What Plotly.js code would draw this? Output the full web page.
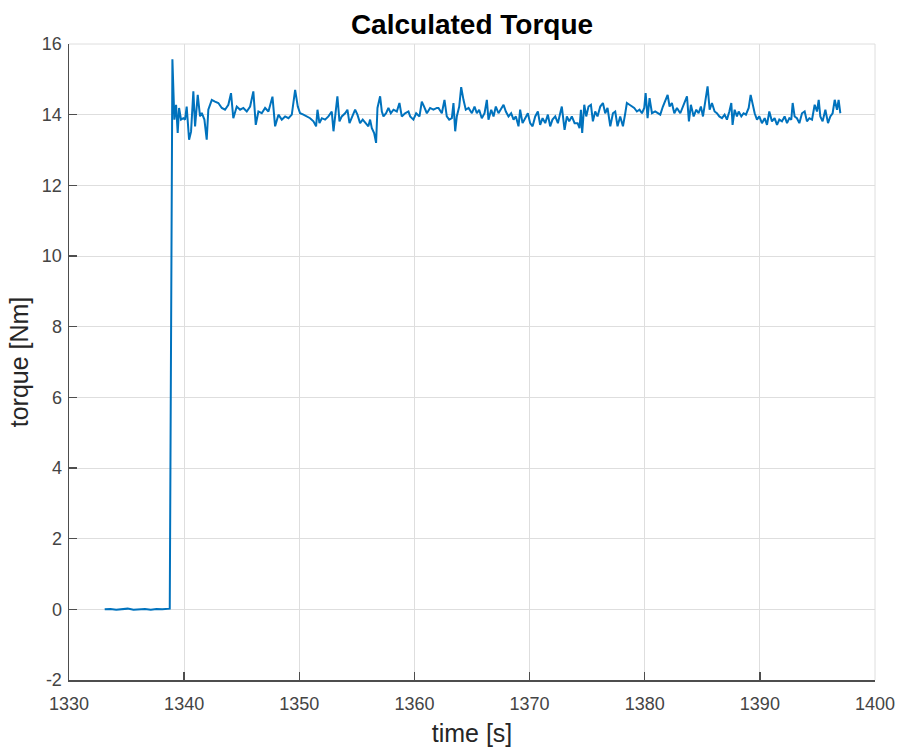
<!DOCTYPE html>
<html>
<head>
<meta charset="utf-8">
<script src="https://cdn.plot.ly/plotly-3.0.1.min.js"></script>
<style>html,body{margin:0;padding:0;background:#fff;}#chart{width:898px;height:747px;}</style>
</head>
<body>
<div id="chart"></div>
<script>
// Time samples [s]
const time = [
1333.1,1333.6,1334.1,1334.6,1335.1,1335.6,1336.1,1336.6,1337.1,1337.6,1338.1,1338.5,1338.75,
1338.98,1339.15,1339.30,1339.44,1339.56,1339.73,1339.93,1340.08,1340.22,1340.43,1340.60,1340.80,1340.95,1341.18,1341.38,1341.53,1341.76,1341.96,
1342.10,1342.40,1342.68,1342.97,1343.27,1343.55,1343.84,1344.07,1344.27,1344.57,1344.86,1345.14,1345.44,1345.73,1346.01,1346.22,1346.45,1346.74,
1347.03,1347.32,1347.67,1347.90,1348.19,1348.48,1348.77,1349.06,1349.35,1349.64,1349.87,1350.07,
1350.36,1350.65,1350.94,1351.23,1351.46,1351.58,1351.75,1351.96,1352.24,1352.53,1352.82,1352.97,1353.11,1353.31,1353.49,1353.69,1353.98,
1354.18,1354.36,1354.56,1354.85,1355.05,1355.28,1355.51,1355.80,1356.00,1356.15,1356.30,1356.50,1356.67,1356.79,1357.02,1357.17,1357.31,
1357.54,1357.74,1357.95,1358.18,1358.47,1358.70,1358.90,1359.19,1359.48,1359.63,1359.91,1360.15,1360.44,1360.64,1360.84,1361.08,1361.36,
1361.65,1361.95,
1362.09,1362.38,1362.61,1362.81,1363.02,1363.25,1363.39,1363.54,1363.68,1363.89,1364.06,1364.26,1364.46,1364.70,1364.99,1365.22,1365.42,
1365.62,1365.85,1366.09,1366.29,1366.43,1366.67,1366.87,1367.07,1367.30,1367.53,1367.74,1367.94,1368.17,1368.40,1368.61,1368.81,1369.04,
1369.18,1369.39,1369.62,1369.85,1370.05,1370.26,1370.49,1370.72,1370.92,1371.13,1371.36,1371.59,1371.79,1371.99,1372.23,1372.46,1372.66,
1372.80,1373.04,1373.24,1373.44,1373.67,1373.91,
1374.17,1374.34,1374.46,1374.57,1374.75,1374.92,1375.12,1375.33,1375.50,1375.70,1375.90,1376.14,1376.37,1376.57,1376.77,1377.01,1377.24,
1377.44,1377.64,1377.87,1378.11,1378.31,1378.45,1378.68,1378.89,1379.09,1379.32,1379.55,1379.76,1379.96,1380.08,1380.25,1380.42,1380.63,
1380.91,1381.12,1381.35,1381.58,1381.78,1381.99,1382.16,1382.36,1382.57,1382.80,1383.09,1383.32,1383.52,1383.67,1383.84,1384.01,1384.25,
1384.48,1384.68,1384.88,1385.06,1385.26,1385.46,1385.64,
1385.84,1386.07,1386.27,1386.48,1386.71,1386.94,1387.14,1387.35,1387.52,1387.63,1387.81,1388.01,1388.16,1388.39,1388.59,1388.79,1389.03,
1389.20,1389.37,1389.55,1389.75,1389.95,1390.18,1390.42,1390.62,1390.82,1391.05,1391.28,1391.49,1391.69,1391.92,1392.15,1392.36,1392.56,
1392.73,1392.85,1393.02,1393.22,1393.43,1393.66,1393.89,1394.09,1394.30,1394.53,1394.76,1394.96,1395.11,1395.25,1395.45,1395.69,1395.92,
1396.12,1396.32,1396.50,1396.70,1396.84,1396.99
];
// Calculated torque [Nm]
const torque = [
0.00,0.01,-0.01,0.00,0.02,-0.01,0.00,0.01,-0.01,0.01,0.00,0.01,0.02,
15.57,13.86,14.28,13.48,14.19,13.86,13.90,13.86,14.23,13.29,13.52,14.66,13.67,14.56,13.95,14.05,13.86,13.29,
14.14,14.42,14.37,14.33,14.19,14.14,14.28,14.61,13.90,14.23,14.14,14.19,14.09,14.23,14.66,13.71,14.09,14.04,
14.19,14.09,14.51,13.67,14.00,13.86,13.95,13.90,14.00,14.70,14.23,14.04,
14.00,13.95,13.90,13.81,13.67,14.14,13.76,13.90,13.86,13.95,14.09,13.53,13.95,14.52,13.81,13.95,14.04,
14.14,13.76,13.90,14.14,14.00,13.76,13.86,13.76,13.67,13.86,13.62,13.48,13.20,14.19,14.52,14.09,13.95,
14.04,14.19,14.04,14.14,14.09,14.33,13.95,14.04,14.09,13.95,13.86,14.04,13.95,14.37,14.23,14.04,14.19,
14.14,14.19,
14.19,14.04,14.42,13.95,13.86,13.90,14.33,13.53,13.95,14.23,14.78,14.42,14.14,14.19,14.04,14.23,14.04,
14.14,13.90,14.04,14.42,13.86,14.14,13.95,14.23,14.04,14.19,14.28,14.09,13.95,14.04,13.86,13.95,13.67,
14.14,13.76,13.90,14.04,13.76,13.67,13.95,14.09,13.71,13.90,13.76,14.00,13.67,13.86,13.95,13.76,14.04,
14.23,13.57,13.95,13.81,13.95,13.76,
13.76,13.62,14.14,13.48,14.28,13.95,14.23,14.28,13.81,14.09,13.95,14.23,14.33,14.04,14.19,13.67,14.04,
14.09,13.67,13.95,13.67,14.04,14.33,14.28,14.23,14.19,14.09,14.14,14.04,14.19,14.61,13.90,14.47,14.04,
14.09,14.04,14.00,14.23,14.42,14.56,14.23,14.33,14.04,14.19,14.04,14.23,14.37,14.52,13.81,14.28,13.95,
14.14,14.04,14.23,13.95,14.42,14.80,14.14,
14.33,14.09,14.04,13.95,13.90,14.00,13.86,14.09,14.33,13.71,14.14,13.95,14.09,13.95,14.04,14.00,14.19,
14.56,14.28,14.04,13.86,13.95,13.76,13.90,13.71,14.09,13.81,13.90,13.71,13.86,13.81,13.95,13.76,13.90,
13.86,14.33,13.95,13.90,13.76,14.04,14.09,13.81,13.90,13.86,14.28,14.09,14.42,13.95,13.81,14.14,13.76,
13.95,14.04,14.42,14.14,14.42,14.04
];
const xTicks = [1330,1340,1350,1360,1370,1380,1390,1400];
const yTicks = [-2,0,2,4,6,8,10,12,14,16];

const FONT = 'Liberation Sans, Arial, sans-serif';
const axisCommon = {
  showline: true, linecolor: '#4d4d4d', linewidth: 1.5,
  ticks: 'inside', ticklen: 8, tickwidth: 1.5, tickcolor: '#4d4d4d',
  showgrid: true, gridcolor: '#dedede', gridwidth: 1,
  zeroline: false, mirror: false,
  tickfont: {family: FONT, size: 18, color: '#444444'},
  tickmode: 'array', layer: 'above traces'
};

const data = [{
  x: time, y: torque, type: 'scatter', mode: 'lines',
  line: {color: '#0072BD', width: 2}, hoverinfo: 'x+y'
}];

const layout = {
  width: 898, height: 747,
  margin: {l: 69, r: 23, t: 44, b: 67},
  paper_bgcolor: '#ffffff', plot_bgcolor: '#ffffff',
  showlegend: false,
  title: {text: '<b>Calculated Torque</b>', x: 0.5256, xanchor: 'center', y: 0.967, yanchor: 'middle',
          font: {family: FONT, size: 28, color: '#000000'}},
  xaxis: Object.assign({}, axisCommon, {
    range: [1330, 1400], tickvals: xTicks, ticktext: xTicks.map(String),
    ticklabelstandoff: 7,
    title: {text: 'time [s]', standoff: 12, font: {family: FONT, size: 25, color: '#262626'}}
  }),
  yaxis: Object.assign({}, axisCommon, {
    range: [-2, 16], tickvals: yTicks, ticktext: yTicks.map(String),
    ticklabelstandoff: 2,
    title: {text: 'torque [Nm]', standoff: 6, font: {family: FONT, size: 25, color: '#262626'}}
  }),
  shapes: [
    {type: 'line', xref: 'paper', yref: 'paper', x0: 0, x1: 1, y0: 1, y1: 1, line: {color: '#dedede', width: 1}},
    {type: 'line', xref: 'paper', yref: 'paper', x0: 1, x1: 1, y0: 0, y1: 1, line: {color: '#dedede', width: 1}}
  ]
};

Plotly.newPlot('chart', data, layout, {displayModeBar: false, staticPlot: true});
</script>
</body>
</html>
